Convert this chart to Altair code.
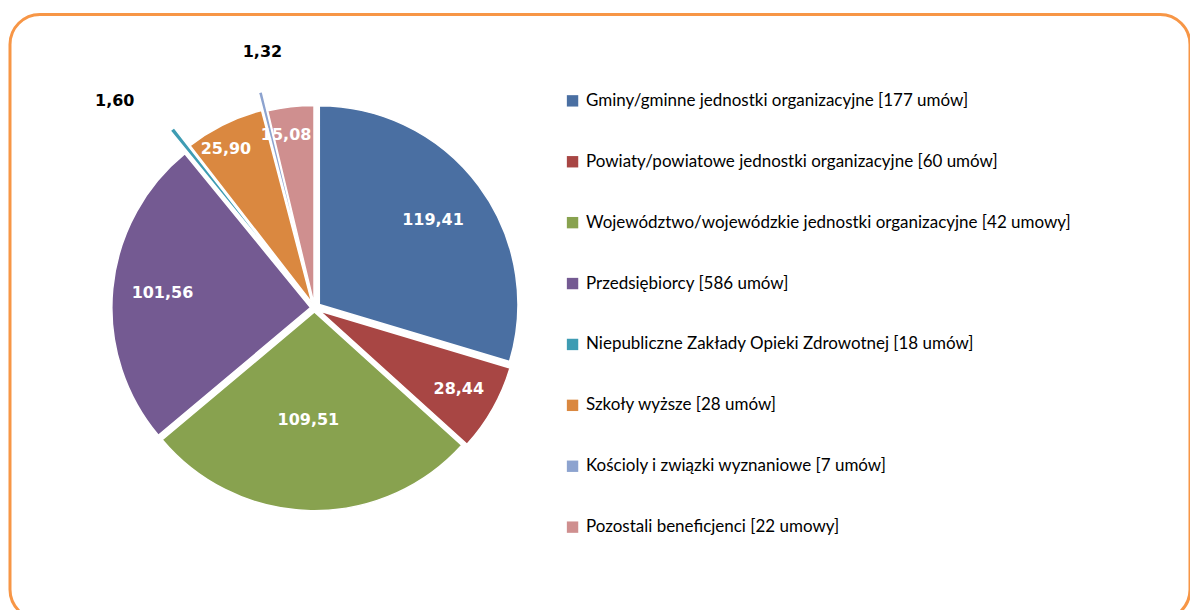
import altair as alt
import pandas as pd

categories = [
    "Gminy/gminne jednostki organizacyjne [177 umów]",
    "Powiaty/powiatowe jednostki organizacyjne [60 umów]",
    "Województwo/wojewódzkie jednostki organizacyjne [42 umowy]",
    "Przedsiębiorcy [586 umów]",
    "Niepubliczne Zakłady Opieki Zdrowotnej [18 umów]",
    "Szkoły wyższe [28 umów]",
    "Kościoly i związki wyznaniowe [7 umów]",
    "Pozostali beneficjenci  [22 umowy]",
]
values = [119.41, 28.44, 109.51, 101.56, 1.60, 25.90, 1.32, 15.08]
colors = ["#4A6FA2", "#A84644", "#88A24F", "#745A92", "#3E9CB3", "#DA8840", "#8DA3CF", "#CF8F8F"]

df = pd.DataFrame({"cat": categories, "value": values, "idx": list(range(len(values)))})

# layout (pixels): pie centre, radius, label radius, label x-shift and explode distance per slice
CX, CY, R = 305, 294, 199
LABEL_R = [142, 160, 108, 155, 235, 172, 240, 170]
LABEL_DX = [0, 0, -4, 6, -35, -10, 12, -8]
EXPLODE = [6, 6, 4, 4, 30, 6, 24, 4]

base = (
    alt.Chart(df)
    .transform_joinaggregate(total="sum(value)")
    .transform_window(cum="sum(value)", sort=[alt.SortField("idx")], frame=[None, 0])
    .transform_calculate(
        a0="(datum.cum - datum.value) / datum.total * 2 * PI",
        a1="datum.cum / datum.total * 2 * PI",
    )
    .transform_calculate(
        mid="(datum.a0 + datum.a1) / 2",
        ex=f"{EXPLODE}[datum.idx]",
        lr=f"{LABEL_R}[datum.idx]",
        ldx=f"{LABEL_DX}[datum.idx]",
        lbl="replace(format(datum.value, '.2f'), '.', ',')",
    )
    .transform_calculate(
        ax=f"{CX} + datum.ex * sin(datum.mid)",
        ay=f"{CY} - datum.ex * cos(datum.mid)",
        tx=f"{CX} + (datum.ex + datum.lr) * sin(datum.mid) + datum.ldx",
        ty=f"{CY} - (datum.ex + datum.lr) * cos(datum.mid)",
    )
)

pie = base.mark_arc(outerRadius=R, stroke="white", strokeWidth=1.5).encode(
    x=alt.X("ax:Q", scale=None),
    y=alt.Y("ay:Q", scale=None),
    theta=alt.Theta("a0:Q", scale=None),
    theta2="a1:Q",
    color=alt.Color(
        "cat:N",
        scale=alt.Scale(domain=categories, range=colors),
        sort=categories,
        legend=alt.Legend(
            title=None,
            orient="none",
            legendX=555,
            legendY=78,
            symbolType="square",
            symbolSize=130,
            symbolStrokeWidth=0,
            labelFont="Lato",
            labelFontSize=17,
            labelColor="black",
            labelLimit=800,
            rowPadding=43,
            labelOffset=5,
        ),
    ),
)

text = base.mark_text(font="DejaVu Sans", fontWeight="bold", fontSize=16).encode(
    x=alt.X("tx:Q", scale=None),
    y=alt.Y("ty:Q", scale=None),
    text="lbl:N",
    color=alt.condition(alt.datum.value > 10, alt.value("white"), alt.value("black")),
)

chart = (
    alt.layer(pie, text)
    .properties(
        width=1182,
        height=606,
        padding={"left": 2, "top": 6, "right": 0, "bottom": 0},
        autosize=alt.AutoSizeParams(type="none"),
    )
    .configure_view(stroke="#F79646", strokeWidth=3, cornerRadius=30)
)

chart.save("out.html", embed_options={"renderer": "svg", "actions": False})
